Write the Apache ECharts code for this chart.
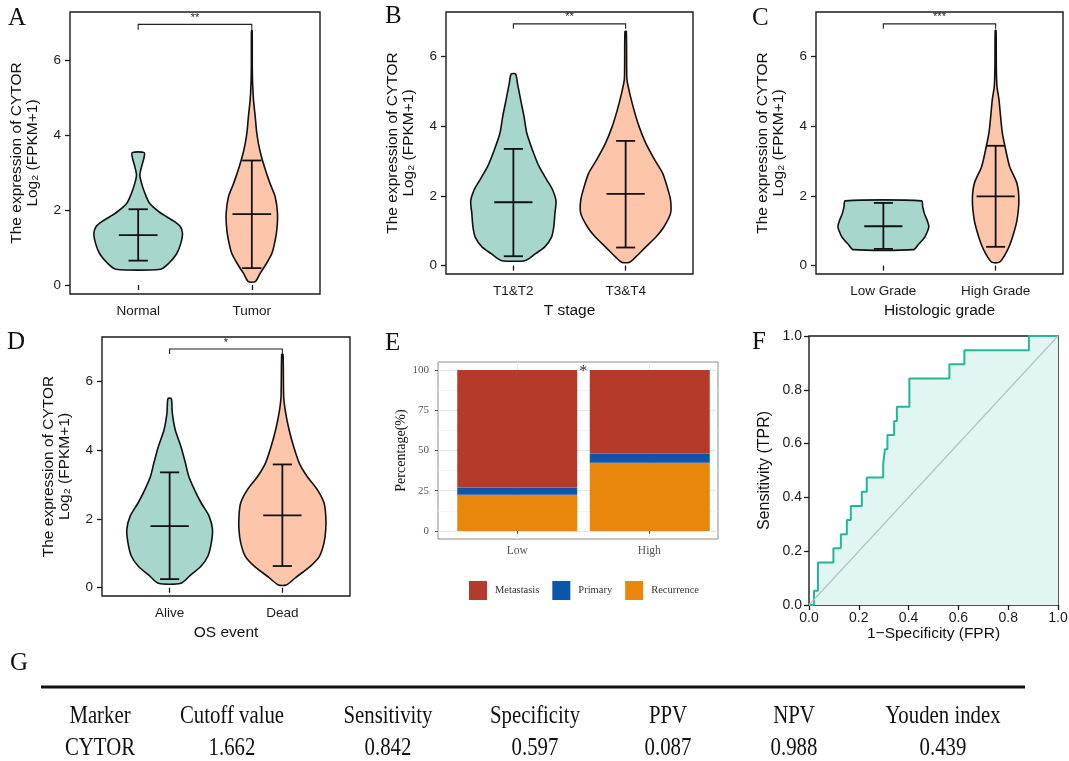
<!DOCTYPE html>
<html>
<head>
<meta charset="utf-8">
<script src="https://cdn.jsdelivr.net/npm/echarts@6/dist/echarts.min.js"></script>
<style>
  html, body { margin: 0; padding: 0; background: #fff; }
  #main { width: 1069px; height: 761px; }
</style>
</head>
<body>
<div id="main"></div>
<script>
// ---- data ----
// violin outlines: [expression, half width in category units]
var vNormal = [[0.42,0.197],[0.58,0.27],[0.84,0.34],[1.11,0.375],[1.38,0.39],[1.56,0.37],[1.69,0.32],[1.82,0.25],[1.96,0.18],[2.18,0.10],[2.44,0.06],[2.71,0.03],[2.93,0.015],[3.16,0.03],[3.38,0.05],[3.53,0.053]];
var vTumor = [[0.09,0.03],[0.31,0.073],[0.58,0.13],[0.84,0.176],[1.11,0.2],[1.47,0.22],[1.91,0.226],[2.36,0.205],[2.71,0.16],[3.16,0.11],[3.6,0.07],[4.04,0.044],[4.49,0.03],[4.93,0.015],[5.38,0.007],[5.82,0.004],[6.78,0.003]];
var vT12 = [[0.15,0.11],[0.35,0.2],[0.54,0.28],[0.82,0.34],[1.11,0.36],[1.5,0.37],[1.85,0.38],[2.17,0.35],[2.45,0.30],[2.84,0.23],[3.32,0.17],[3.8,0.12],[4.28,0.095],[4.76,0.065],[5.24,0.036],[5.5,0.02]];
var vT34 = [[0.1,0.035],[0.25,0.09],[0.54,0.18],[0.82,0.27],[1.11,0.34],[1.5,0.40],[1.88,0.40],[2.26,0.37],[2.65,0.33],[3.03,0.26],[3.51,0.18],[3.99,0.12],[4.47,0.074],[4.95,0.036],[5.33,0.012],[5.71,0.009],[6.72,0.006]];
var vLowGrade = [[0.46,0.27],[0.6,0.31],[0.8,0.365],[1.0,0.395],[1.13,0.405],[1.3,0.39],[1.5,0.365],[1.7,0.35],[1.86,0.34]];
var vHighGrade = [[0.1,0.035],[0.35,0.09],[0.63,0.13],[0.92,0.16],[1.3,0.19],[1.88,0.207],[2.36,0.19],[2.84,0.125],[3.32,0.09],[3.8,0.06],[4.28,0.044],[4.76,0.03],[5.14,0.012],[5.71,0.006],[6.75,0.004]];
var vAlive = [[0.13,0.10],[0.35,0.18],[0.63,0.28],[0.92,0.34],[1.31,0.37],[1.69,0.38],[2.08,0.35],[2.46,0.28],[2.85,0.22],[3.23,0.17],[3.62,0.14],[4.1,0.10],[4.58,0.05],[5.06,0.024],[5.49,0.015]];
var vDead = [[0.08,0.035],[0.3,0.12],[0.63,0.25],[0.92,0.33],[1.31,0.37],[1.69,0.385],[2.08,0.385],[2.46,0.37],[2.85,0.31],[3.23,0.22],[3.62,0.15],[4.1,0.10],[4.58,0.06],[5.06,0.03],[5.54,0.012],[6.77,0.006]];

// error bars: [lower, mean, upper]
var statsA = [[0.65,1.33,2.02],[0.45,1.89,3.32]];
var statsB = [[0.27,1.82,3.35],[0.52,2.06,3.58]];
var statsC = [[0.48,1.13,1.80],[0.54,1.99,3.44]];
var statsD = [[0.25,1.79,3.35],[0.63,2.10,3.58]];

var catsA = ['Normal', 'Tumor'];
var catsB = ['T1&T2', 'T3&T4'];
var catsC = ['Low Grade', 'High Grade'];
var catsD = ['Alive', 'Dead'];
var sigMarks = ['**', '**', '***', '*'];
var sigLevel = [6.95, 6.94, 6.94, 6.93];
var exprTicks = [0, 2, 4, 6];

var riskCats = ['Low', 'High'];
var metastasis = [73.0, 52.0];
var primary = [4.5, 5.6];
var recurrence = [22.5, 42.4];
var pctTicks = [0, 25, 50, 75, 100];
var pctMinor = [12.5, 37.5, 62.5, 87.5];

var rocFpr = [0, 0.020, 0.036, 0.098, 0.128, 0.152, 0.168, 0.212, 0.232, 0.298, 0.305, 0.315, 0.342, 0.353, 0.403, 0.564, 0.624, 0.883, 1.0];
var rocTpr = [0, 0.053, 0.158, 0.211, 0.263, 0.316, 0.368, 0.421, 0.474, 0.526, 0.579, 0.632, 0.684, 0.737, 0.842, 0.895, 0.947, 1.0, 1.0];
var diagX = [0, 1];
var diagY = [0, 1];
var rocNotes = ['CYTOR', 'AUC: 0.707', 'CI: 0.603\u22120.810'];

var tableHead = ['Marker', 'Cutoff value', 'Sensitivity', 'Specificity', 'PPV', 'NPV', 'Youden index'];
var tableRow = ['CYTOR', '1.662', '0.842', '0.597', '0.087', '0.988', '0.439'];

// ---- chart ----
var SANS = '"Liberation Sans", Arial, sans-serif';
var SERIF = '"Liberation Serif", "Times New Roman", serif';
var violinFill = ['#a7d6cd', '#fdc5a9'];
var capW = 0.085, meanW = 0.17;

var myChart = echarts.init(document.getElementById('main'));

var panels = [
    {box: {left: 70, top: 12, width: 250, height: 282}, cats: catsA, shapes: [vNormal, vTumor], stats: statsA, xName: ''},
    {box: {left: 446, top: 12, width: 247, height: 262}, cats: catsB, shapes: [vT12, vT34], stats: statsB, xName: 'T stage'},
    {box: {left: 816, top: 12, width: 247, height: 262}, cats: catsC, shapes: [vLowGrade, vHighGrade], stats: statsC, xName: 'Histologic grade'},
    {box: {left: 102, top: 337, width: 248, height: 259}, cats: catsD, shapes: [vAlive, vDead], stats: statsD, xName: 'OS event'}
];

function violinItem(shapes, stats) {
    return function (params, api) {
        var k = params.dataIndex, cx = k + 1, st = stats[k];
        var left = [], right = [];
        shapes[k].forEach(function (p) {
            left.push(api.coord([cx - p[1], p[0]]));
            right.unshift(api.coord([cx + p[1], p[0]]));
        });
        function seg(x1, y1, x2, y2) {
            var s = api.coord([x1, y1]), e = api.coord([x2, y2]);
            return {type: 'line', shape: {x1: s[0], y1: s[1], x2: e[0], y2: e[1]},
                    style: {stroke: '#111', lineWidth: 1.8}};
        }
        return {type: 'group', children: [
            {type: 'polygon', shape: {points: left.concat(right), smooth: 0.25},
             style: {fill: violinFill[k], stroke: '#111', lineWidth: 1.6}},
            seg(cx, st[0], cx, st[2]),
            seg(cx - capW, st[0], cx + capW, st[0]),
            seg(cx - capW, st[2], cx + capW, st[2]),
            seg(cx - meanW, st[1], cx + meanW, st[1])
        ]};
    };
}

function bracketItem(mark) {
    return function (params, api) {
        var y = api.value(1);
        var a0 = api.coord([1, y - 0.14]), a = api.coord([1, y]);
        var b = api.coord([2, y]), b0 = api.coord([2, y - 0.14]);
        return {type: 'group', children: [
            {type: 'polyline', shape: {points: [a0, a, b, b0]}, style: {stroke: '#222', lineWidth: 1.1, fill: null}},
            {type: 'text', x: (a[0] + b[0]) / 2, y: a[1] - 1,
             style: {text: mark, textAlign: 'center', textVerticalAlign: 'bottom', font: '11px ' + SANS, fill: '#222'}}
        ]};
    };
}

var grids = [], xAxes = [], yAxes = [], series = [];

panels.forEach(function (p, i) {
    grids.push(Object.assign({show: true, borderColor: '#1a1a1a', borderWidth: 1.4, outerBoundsMode: 'none'}, p.box));
    xAxes.push({
        gridIndex: i, type: 'value', min: 0.4, max: 2.6,
        name: p.xName, nameLocation: 'middle', nameGap: 29,
        nameTextStyle: {fontFamily: SANS, fontSize: 15.5, color: '#111'},
        axisLine: {show: false}, splitLine: {show: false},
        axisTick: {customValues: [1, 2], length: 5, lineStyle: {color: '#1a1a1a', width: 1.3}},
        axisLabel: {customValues: [1, 2], margin: 10, fontFamily: SANS, fontSize: 13.5, color: '#1a1a1a',
            formatter: function (v) { return p.cats[Math.round(v) - 1]; }}
    });
    yAxes.push({
        gridIndex: i, type: 'value', min: -0.24, max: 7.28,
        name: 'The expression of CYTOR\nLog\u2082 (FPKM+1)', nameLocation: 'middle', nameGap: 29,
        nameTextStyle: {fontFamily: SANS, fontSize: 15.5, lineHeight: 16, color: '#111', align: 'center'},
        axisLine: {show: false}, splitLine: {show: false},
        axisTick: {customValues: exprTicks, length: 5, lineStyle: {color: '#1a1a1a', width: 1.3}},
        axisLabel: {customValues: exprTicks, margin: 9, fontFamily: SANS, fontSize: 13.5, color: '#1a1a1a'}
    });
    series.push({
        type: 'custom', xAxisIndex: i, yAxisIndex: i, silent: true,
        data: [[1, 0], [2, 0]], encode: {x: 0, y: 1},
        renderItem: violinItem(p.shapes, p.stats)
    });
    series.push({
        type: 'custom', xAxisIndex: i, yAxisIndex: i, silent: true,
        data: [[1.5, sigLevel[i]]], encode: {x: 0, y: 1},
        renderItem: bracketItem(sigMarks[i])
    });
});

// panel E frame (grid 4): border, gridlines, tick labels
grids.push({left: 438, top: 362, width: 280, height: 177, show: true, borderColor: '#8c8c8c', borderWidth: 1, outerBoundsMode: 'none'});
xAxes.push({
    gridIndex: 4, type: 'value', min: 0.4, max: 2.52,
    axisLine: {show: false},
    splitLine: {show: true, lineStyle: {color: '#ebebeb', width: 1}},
    axisTick: {customValues: [1, 2], length: 3, lineStyle: {color: '#555'}},
    axisLabel: {customValues: [1, 2], margin: 6, fontFamily: SERIF, fontSize: 11.5, color: '#555',
        formatter: function (v) { return riskCats[Math.round(v) - 1]; }}
});
yAxes.push({
    gridIndex: 4, type: 'value', min: -5, max: 105,
    name: 'Percentage(%)', nameLocation: 'middle', nameGap: 22,
    nameTextStyle: {fontFamily: SERIF, fontSize: 14, color: '#111'},
    axisLine: {show: false},
    splitLine: {show: true, lineStyle: {color: '#e6e6e6', width: 1}},
    axisTick: {customValues: pctTicks, length: 3, lineStyle: {color: '#555'}},
    axisLabel: {customValues: pctTicks, margin: 9, fontFamily: SERIF, fontSize: 11, color: '#555'}
});
yAxes.push({
    gridIndex: 4, type: 'value', min: -5, max: 105,
    axisLine: {show: false}, axisLabel: {show: false},
    axisTick: {show: false, customValues: pctMinor},
    splitLine: {show: true, lineStyle: {color: '#f3f3f3', width: 0.8}}
});
// panel E bars (grid 5): overlaid category grid so that bands sit under the ticks
grids.push({left: 451, top: 362, width: 265, height: 177, outerBoundsMode: 'none'});
xAxes.push({gridIndex: 5, type: 'category', data: riskCats, show: false});
yAxes.push({gridIndex: 5, type: 'value', min: -5, max: 105, show: false});
var stackSets = [['Recurrence', recurrence, '#e8870b'], ['Primary', primary, '#0b56a8'], ['Metastasis', metastasis, '#b53a29']];
stackSets.forEach(function (s) {
    series.push({
        name: s[0], type: 'bar', stack: 'risk', xAxisIndex: 5, yAxisIndex: 6,
        barWidth: 120, itemStyle: {color: s[2]}, silent: true,
        data: s[1]
    });
});
series.push({
    type: 'custom', xAxisIndex: 4, yAxisIndex: 4, silent: true,
    data: [[1.5, 99]], encode: {x: 0, y: 1},
    renderItem: function (params, api) {
        var c = api.coord([api.value(0), api.value(1)]);
        return {type: 'text', x: c[0], y: c[1],
            style: {text: '*', textAlign: 'center', textVerticalAlign: 'middle', font: '16px ' + SERIF, fill: '#333'}};
    }
});

// panel F (grid 6): ROC curve
grids.push({left: 809, top: 336, width: 249, height: 269, show: true, borderColor: '#1a1a1a', borderWidth: 1.4, outerBoundsMode: 'none'});
xAxes.push({
    gridIndex: 6, type: 'value', min: 0, max: 1, interval: 0.2,
    name: '1\u2212Specificity (FPR)', nameLocation: 'middle', nameGap: 20,
    nameTextStyle: {fontFamily: SANS, fontSize: 15.5, color: '#111'},
    axisLine: {show: false}, splitLine: {show: false},
    axisTick: {length: 5, lineStyle: {color: '#1a1a1a', width: 1.3}},
    axisLabel: {margin: 6, fontFamily: SANS, fontSize: 14, color: '#1a1a1a', formatter: function (v) { return v.toFixed(1); }}
});
yAxes.push({
    gridIndex: 6, type: 'value', min: 0, max: 1, interval: 0.2,
    name: 'Sensitivity (TPR)', nameLocation: 'middle', nameGap: 36,
    nameTextStyle: {fontFamily: SANS, fontSize: 16, color: '#111'},
    axisLine: {show: false}, splitLine: {show: false},
    axisTick: {length: 5, lineStyle: {color: '#1a1a1a', width: 1.3}},
    axisLabel: {margin: 7, fontFamily: SANS, fontSize: 14, color: '#1a1a1a', formatter: function (v) { return v.toFixed(1); }}
});
series.push({
    type: 'line', xAxisIndex: 6, yAxisIndex: 7, step: 'end', symbol: 'none', silent: true,
    lineStyle: {color: '#20b89b', width: 2},
    areaStyle: {color: '#e1f5f2', opacity: 1},
    data: rocFpr.map(function (x, i) { return [x, rocTpr[i]]; })
});
series.push({
    type: 'line', xAxisIndex: 6, yAxisIndex: 7, symbol: 'none', silent: true,
    lineStyle: {color: '#b2c5c1', width: 1.2},
    data: diagX.map(function (x, i) { return [x, diagY[i]]; })
});

// labels, notes and the table
var graphics = [];
var letters = [['A', 8, 6], ['B', 385, 4], ['C', 752, 6], ['D', 7, 330], ['E', 385, 331], ['F', 752, 330], ['G', 10, 651]];
letters.forEach(function (l) {
    graphics.push({type: 'text', left: l[1], top: l[2], style: {text: l[0], font: '25px ' + SERIF, fill: '#111'}});
});
rocNotes.forEach(function (t, i) {
    graphics.push({type: 'text', x: 1052, y: 560 + i * 15.5,
        style: {text: t, textAlign: 'right', textVerticalAlign: 'middle', font: '11.5px ' + SANS, fill: '#222'}});
});
var colX = [100, 232, 388, 535, 668, 794, 943];
graphics.push({type: 'line', shape: {x1: 41, y1: 687, x2: 1025, y2: 687}, style: {stroke: '#111', lineWidth: 3}});
tableHead.forEach(function (t, i) {
    graphics.push({type: 'text', x: colX[i], y: 716, scaleX: 0.8,
        style: {text: t, textAlign: 'center', textVerticalAlign: 'middle', font: '26px ' + SERIF, fill: '#111'}});
    graphics.push({type: 'text', x: colX[i], y: 748, scaleX: 0.8,
        style: {text: tableRow[i], textAlign: 'center', textVerticalAlign: 'middle', font: '26px ' + SERIF, fill: '#111'}});
});

var option = {
    animation: false,
    backgroundColor: '#fff',
    textStyle: {fontFamily: SANS},
    grid: grids,
    xAxis: xAxes,
    yAxis: yAxes,
    legend: {
        left: 464, top: 576, itemWidth: 18, itemHeight: 19, itemGap: 13, icon: 'rect',
        data: ['Metastasis', 'Primary', 'Recurrence'],
        textStyle: {fontFamily: SERIF, fontSize: 10.5, color: '#333', padding: [0, 0, 0, 3]}
    },
    graphic: graphics,
    series: series
};

myChart.setOption(option);
window.addEventListener('resize', function () {
    myChart.resize();
});
</script>
</body>
</html>
